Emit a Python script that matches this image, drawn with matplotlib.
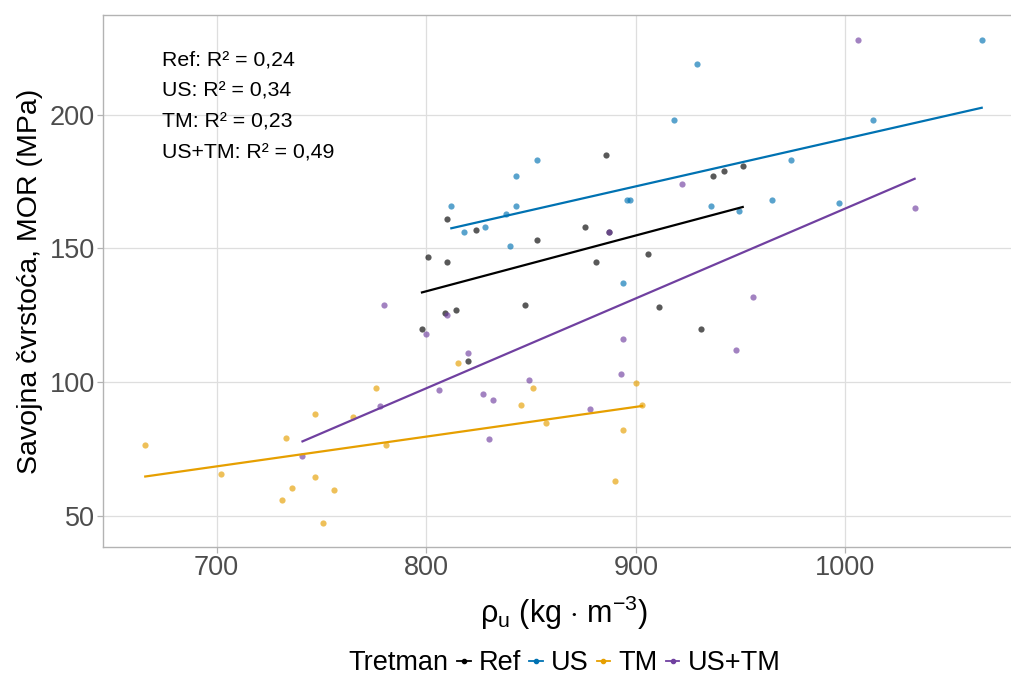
import numpy as np
import matplotlib
matplotlib.use("Agg")
import matplotlib.pyplot as plt
from matplotlib.lines import Line2D

plt.rcParams['font.family'] = ['Liberation Sans', 'DejaVu Sans']
plt.rcParams['mathtext.fontset'] = 'custom'
plt.rcParams['mathtext.rm'] = 'Liberation Sans'
plt.rcParams['mathtext.it'] = 'Liberation Sans:italic'

# gustoća (kg/m3) i savojna čvrstoća (MPa) po tretmanu
ref_rho = [886, 810, 824, 853, 876, 887, 937, 942, 951, 906,
           801, 810, 881, 798, 809, 814, 847, 911, 931, 820]
ref_mor = [185, 161, 157, 153, 158, 156, 177, 179, 181, 148,
           147, 145, 145, 120, 126, 127, 129, 128, 120, 108]

us_rho = [929, 918, 853, 843, 812, 843, 838, 818, 828, 840,
          896, 897, 936, 949, 894, 1065, 1013, 974, 965, 997]
us_mor = [219, 198, 183, 177, 166, 166, 163, 156, 158, 151,
          168, 168, 166, 164, 137, 228, 198, 183, 168, 167]

tm_rho = [776, 747, 765, 733, 781, 666, 702, 747, 736, 756,
          731, 751, 815, 851, 900, 845, 903, 857, 894, 890]
tm_mor = [98, 88, 87, 79, 76.5, 76.5, 65.5, 64.5, 60.5, 59.7,
          56, 47.5, 107, 98, 99.7, 91.5, 91.3, 84.7, 82, 63]

ustm_rho = [1006, 1033, 956, 780, 800, 810, 778, 741, 948, 894,
            820, 806, 849, 893, 827, 832, 878, 830, 922, 887]
ustm_mor = [228, 165, 132, 129, 118, 125, 91, 72.5, 112, 116,
            111, 97, 101, 103, 95.5, 93.5, 90, 78.6, 174, 156]

groups = ['Ref', 'US', 'TM', 'US+TM']
r2_labels = ['Ref: R² = 0,24', 'US: R² = 0,34', 'TM: R² = 0,23', 'US+TM: R² = 0,49']
colors = {'Ref': '#000000', 'US': '#0072B2', 'TM': '#E69F00', 'US+TM': '#7040A0'}
data = {
    'Ref': (ref_rho, ref_mor),
    'US': (us_rho, us_mor),
    'TM': (tm_rho, tm_mor),
    'US+TM': (ustm_rho, ustm_mor),
}

fig = plt.figure(figsize=(10.11, 6.74), dpi=100)
ax = fig.add_axes([0.1022, 0.1889, 0.9103, 0.7884])

for g in groups:
    x, y = np.array(data[g][0], float), np.array(data[g][1], float)
    ax.scatter(x, y, s=20, color=colors[g], alpha=0.65, linewidths=0, zorder=3)
    k, n = np.polyfit(x, y, 1)
    xs = np.array([x.min(), x.max()])
    ax.plot(xs, k * xs + n, color=colors[g], lw=1.6, zorder=4)

ax.set_xlim(646, 1085)
ax.set_ylim(38.5, 237.2)
ax.set_xticks([700, 800, 900, 1000])
ax.set_yticks([50, 100, 150, 200])
ax.grid(True, color='#DEDEDE', lw=0.9)
ax.set_axisbelow(True)
for side in ['left', 'bottom', 'top']:
    ax.spines[side].set_color('#B3B3B3')
    ax.spines[side].set_linewidth(1.0)
ax.spines['right'].set_visible(False)
ax.tick_params(colors='#B3B3B3', labelcolor='#4D4D4D', labelsize=19.5,
               length=4, width=0.9, pad=2)

ax.set_xlabel('ρ$_\\mathrm{u}$ (kg $\\cdot$ m$^{-3}$)', fontsize=22, labelpad=9)
ax.set_ylabel('Savojna čvrstoća, MOR (MPa)', fontsize=20.5, labelpad=5)

# R² vrijednosti za svaki tretman
for i, lab in enumerate(r2_labels):
    fig.text(162 / 1011, 1 - (65 + 31.3 * i) / 674, lab, fontsize=15.3,
             va='baseline', ha='left')

# legenda ispod grafa
leg_y = 1 - 663 / 674
fig.text(348 / 1011, leg_y, 'Tretman', fontsize=19.5, va='center', ha='left')
handles = [Line2D([0], [0], color=colors[g], lw=1.3, marker='o', markersize=3)
           for g in groups]
fig.legend(handles, groups, loc='center left', bbox_to_anchor=(457 / 1011, leg_y),
           ncol=4, frameon=False, fontsize=19.5, handlelength=0.5, handletextpad=0.3,
           columnspacing=0.3, borderaxespad=0, borderpad=0)

fig.savefig('out.png', dpi=100)
